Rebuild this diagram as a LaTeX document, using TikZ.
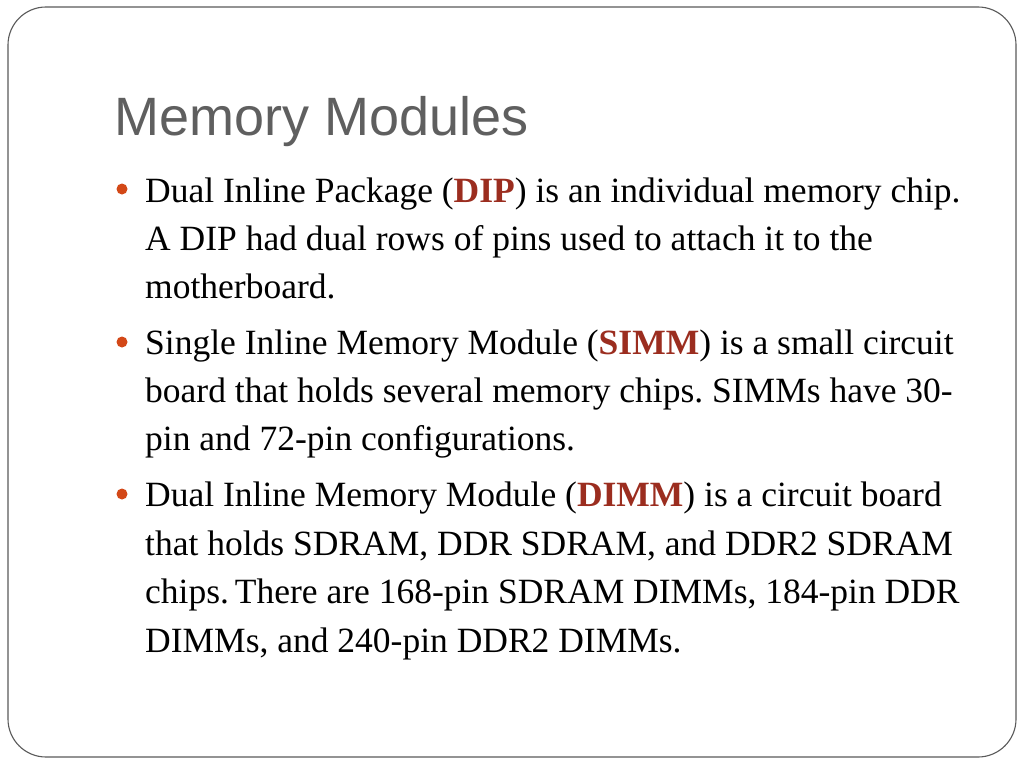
\documentclass[tikz,border=0pt]{standalone}
\usepackage{fontspec}
\setmainfont{Liberation Serif}
\newfontfamily\titlefont{Liberation Sans}
\frenchspacing
\definecolor{titlegray}{RGB}{95,95,95}
\definecolor{bulletorange}{RGB}{211,72,23}
\definecolor{keyred}{RGB}{155,45,31}
\definecolor{framegray}{RGB}{90,90,90}
\tikzset{
  body/.style={anchor=base west, inner sep=0pt, font=\fontsize{35.5}{40}\selectfont},
  bulletdot/.style={circle, fill=bulletorange, inner sep=0pt, minimum size=11pt}
}
\newcommand{\kw}[1]{\textcolor{keyred}{\textbf{#1}}}
\begin{document}
\begin{tikzpicture}[x=1pt,y=-1pt]
\useasboundingbox (0,0) rectangle (1024,768);
\fill[white] (0,0) rectangle (1024,768);
\draw[framegray, line width=1.1pt, rounded corners=38pt] (8,7) rectangle (1016,757);
\node[anchor=base west, inner sep=0pt, text=titlegray, font=\titlefont\fontsize{54}{60}\selectfont] (title) at (114,135) {Memory Modules};
% bullet 1
\node[bulletdot] (b1) at (122,189) {};
\node[body] (l11) at (145,202) {Dual Inline Package (\kw{DIP}) is an individual memory chip.};
\node[body] (l12) at (145,250) {A DIP had dual rows of pins used to attach it to the};
\node[body] (l13) at (145,298) {motherboard.};
% bullet 2
\node[bulletdot] (b2) at (122,342) {};
\node[body] (l21) at (145,354) {Single Inline Memory Module (\kw{SIMM}) is a small circuit};
\node[body] (l22) at (145,402) {board that holds several memory chips. SIMMs have 30-};
\node[body] (l23) at (145,450) {pin and 72-pin configurations.};
% bullet 3
\node[bulletdot] (b3) at (122,494) {};
\node[body] (l31) at (145,506) {Dual Inline Memory Module (\kw{DIMM}) is a circuit board};
\node[body] (l32) at (145,555) {that holds SDRAM, DDR SDRAM, and DDR2 SDRAM};
\node[body] (l33) at (145,603) {chips.\,There are 168-pin SDRAM DIMMs, 184-pin DDR};
\node[body] (l34) at (145,652) {DIMMs, and 240-pin DDR2 DIMMs.};
\end{tikzpicture}
\end{document}
